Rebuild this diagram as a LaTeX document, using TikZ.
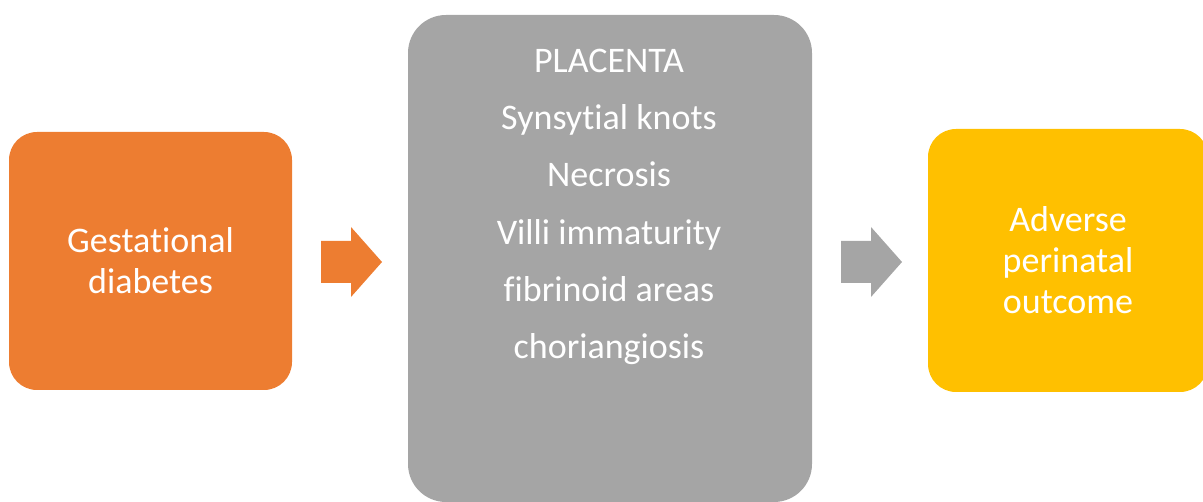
\documentclass[tikz,border=0pt]{standalone}
\usepackage{fontspec}
\setmainfont{Carlito}[Ligatures={NoCommon}]
\usetikzlibrary{positioning}
\definecolor{gdorange}{HTML}{ED7D31}
\definecolor{plgrey}{HTML}{A5A5A5}
\definecolor{outyellow}{HTML}{FFC000}
\tikzset{
  boxnode/.style={rounded corners=28pt, inner sep=0pt, align=center, text=white,
    font=\fontsize{36}{41}\selectfont},
  plnode/.style={inner sep=0pt, align=center, text=white,
    font=\fontsize{36}{57.2}\selectfont}
}
\begin{document}
\begin{tikzpicture}[x=1pt,y=-1pt]
\useasboundingbox (0,0) rectangle (1203,502);
% boxes
\node[boxnode, fill=gdorange, minimum width=283, minimum height=258] (gd) at (150.5,261) {Gestational\\diabetes};
\node[boxnode, fill=plgrey, rounded corners=38pt, minimum width=404, minimum height=487] (pla) at (610,258.5) {};
\node[plnode, anchor=north] (platxt) at (609,49) {PLACENTA\\Synsytial knots\\Necrosis\\Villi immaturity\\fibrinoid areas\\choriangiosis};
\node[boxnode, fill=outyellow, minimum width=280, minimum height=263] (outc) at (1068,260.5) {Adverse\\perinatal\\outcome};
% block arrows
\coordinate (a1) at (321,262);
\coordinate (a2) at (841,262);
\fill[gdorange] (a1) ++(0,-21) -- ++(30,0) -- ++(0,-14) -- ++(31,35) -- ++(-31,35) -- ++(0,-14) -- ++(-30,0) -- cycle;
\fill[plgrey] (a2) ++(0,-21) -- ++(30,0) -- ++(0,-14) -- ++(31,35) -- ++(-31,35) -- ++(0,-14) -- ++(-30,0) -- cycle;
\end{tikzpicture}
\end{document}
